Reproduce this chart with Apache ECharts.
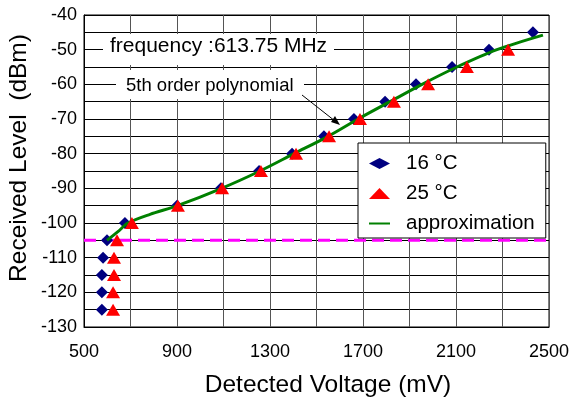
<!DOCTYPE html>
<html>
<head>
<meta charset="utf-8">
<script src="https://cdn.jsdelivr.net/npm/echarts@6/dist/echarts.min.js"></script>
<style>
  html, body { margin: 0; padding: 0; background: #fff; }
  #chart { width: 575px; height: 401px; }
</style>
</head>
<body>
<div id="chart"></div>
<script>
// received level steps (dBm)
const levels16 = [-45, -50, -55, -60, -65, -70, -75, -80, -85, -90, -95, -100, -105, -110, -115, -120, -125]
const volts16 = [2431, 2242, 2083, 1928, 1795, 1661, 1532, 1395, 1253, 1089, 900, 676, 599, 582, 577, 577, 577]

const levels25 = [-50, -55, -60, -65, -70, -75, -80, -85, -90, -95, -100, -105, -110, -115, -120, -125]
const volts25 = [2324, 2147, 1980, 1833, 1687, 1554, 1412, 1261, 1094, 904, 706, 642, 629, 629, 625, 625]

// 5th order polynomial
const approxVolts = [599, 646, 689, 784, 902, 1092, 1257, 1403, 1550, 1679, 1816, 1954, 2104, 2276, 2474]
const approxLevels = [-105, -102.5, -100, -97.5, -95, -90, -85, -80, -75, -70, -65, -60, -55, -50, -45.8]

const thresholdVolts = [500, 2500]
const thresholdLevels = [-105, -105]

const xTicks = [500, 900, 1300, 1700, 2100, 2500]
const yTicks = [-40, -50, -60, -70, -80, -90, -100, -110, -120, -130]

const pair = (xs, ys) => xs.map((x, i) => [x, ys[i]])

const font = '"Liberation Sans", Arial, sans-serif'
const chart = echarts.init(document.getElementById('chart'), null, { renderer: 'canvas' })

chart.setOption({
  animation: false,
  textStyle: { fontFamily: font, color: '#000' },
  grid: {
    left: 84, right: 26, top: 15, bottom: 74,
    show: true, borderColor: '#000', borderWidth: 1,
  },
  xAxis: {
    type: 'value', min: 500, max: 2500, interval: 200,
    axisLine: { lineStyle: { color: '#000' } },
    axisTick: { show: false },
    axisLabel: {
      margin: 16, fontSize: 18, color: '#000', fontFamily: font,
      formatter: v => (xTicks.includes(v) ? String(v) : ''),
    },
    splitLine: { show: true, lineStyle: { color: '#555', width: 1 } },
  },
  yAxis: {
    type: 'value', min: -130, max: -40, interval: 5,
    axisLine: { lineStyle: { color: '#000' } },
    axisTick: { show: false },
    axisLabel: {
      margin: 7, fontSize: 18, color: '#000', fontFamily: font,
      formatter: v => (yTicks.includes(v) ? String(v) : ''),
    },
    splitLine: { show: true, lineStyle: { color: '#000', width: 1 } },
  },
  legend: {
    orient: 'vertical', left: 358, top: 143,
    padding: [10, 11, 4, 10],
    itemGap: 9,
    itemWidth: 21, itemHeight: 11,
    symbolKeepAspect: true,
    backgroundColor: '#fff', borderColor: '#000', borderWidth: 1,
    textStyle: { fontSize: 20.5, color: '#000', fontFamily: font, padding: [0, 0, 0, 11] },
    data: [
      '16 °C',
      '25 °C',
      { name: 'approximation', itemStyle: { opacity: 0 } },
    ],
    selectedMode: false,
  },
  graphic: [
    {
      type: 'rect', left: 103, top: 34, z: 50,
      shape: { width: 231, height: 31 },
      style: { fill: '#fff' },
    },
    {
      type: 'text', left: 110, top: 36, z: 51,
      style: { text: 'frequency :613.75 MHz', font: '21px ' + font, fill: '#000' },
    },
    {
      type: 'rect', left: 116, top: 70, z: 50,
      shape: { width: 188, height: 29 },
      style: { fill: '#fff' },
    },
    {
      type: 'text', left: 126, top: 76, z: 51,
      style: { text: '5th order polynomial', font: '18.5px ' + font, fill: '#000' },
    },
    {
      type: 'line', z: 52,
      shape: { x1: 302, y1: 95, x2: 335, y2: 121 },
      style: { stroke: '#000', lineWidth: 1 },
    },
    {
      type: 'polygon', z: 52,
      shape: { points: [[340, 125], [331, 122], [335, 116]] },
      style: { fill: '#000' },
    },
    {
      type: 'text', x: 328, y: 385, z: 51,
      style: {
        text: 'Detected Voltage (mV)', font: '24.5px ' + font, fill: '#000',
        align: 'center', verticalAlign: 'middle',
      },
    },
    {
      type: 'text', x: 19, y: 158, rotation: Math.PI / 2, z: 51,
      style: {
        text: 'Received Level  (dBm)', font: '24.5px ' + font, fill: '#000',
        align: 'center', verticalAlign: 'middle',
      },
    },
  ],
  series: [
    {
      name: 'threshold',
      type: 'line',
      data: pair(thresholdVolts, thresholdLevels),
      symbol: 'none',
      lineStyle: { color: '#FF00FF', width: 3, type: [12, 6] },
      z: 2,
    },
    {
      name: '16 °C',
      type: 'scatter',
      data: pair(volts16, levels16),
      symbol: 'diamond', symbolSize: 12,
      symbolKeepAspect: true,
      itemStyle: { color: '#000080', opacity: 1 },
      z: 3,
    },
    {
      name: 'approximation',
      type: 'line',
      data: pair(approxVolts, approxLevels),
      smooth: 0.3,
      symbol: 'none',
      lineStyle: { color: '#008000', width: 3 },
      itemStyle: { color: '#008000' },
      z: 4,
    },
    {
      name: '25 °C',
      type: 'scatter',
      data: pair(volts25, levels25),
      symbol: 'triangle', symbolSize: [14, 12],
      symbolKeepAspect: true,
      itemStyle: { color: '#FF0000', opacity: 1 },
      z: 5,
    },
  ],
})
</script>
</body>
</html>
